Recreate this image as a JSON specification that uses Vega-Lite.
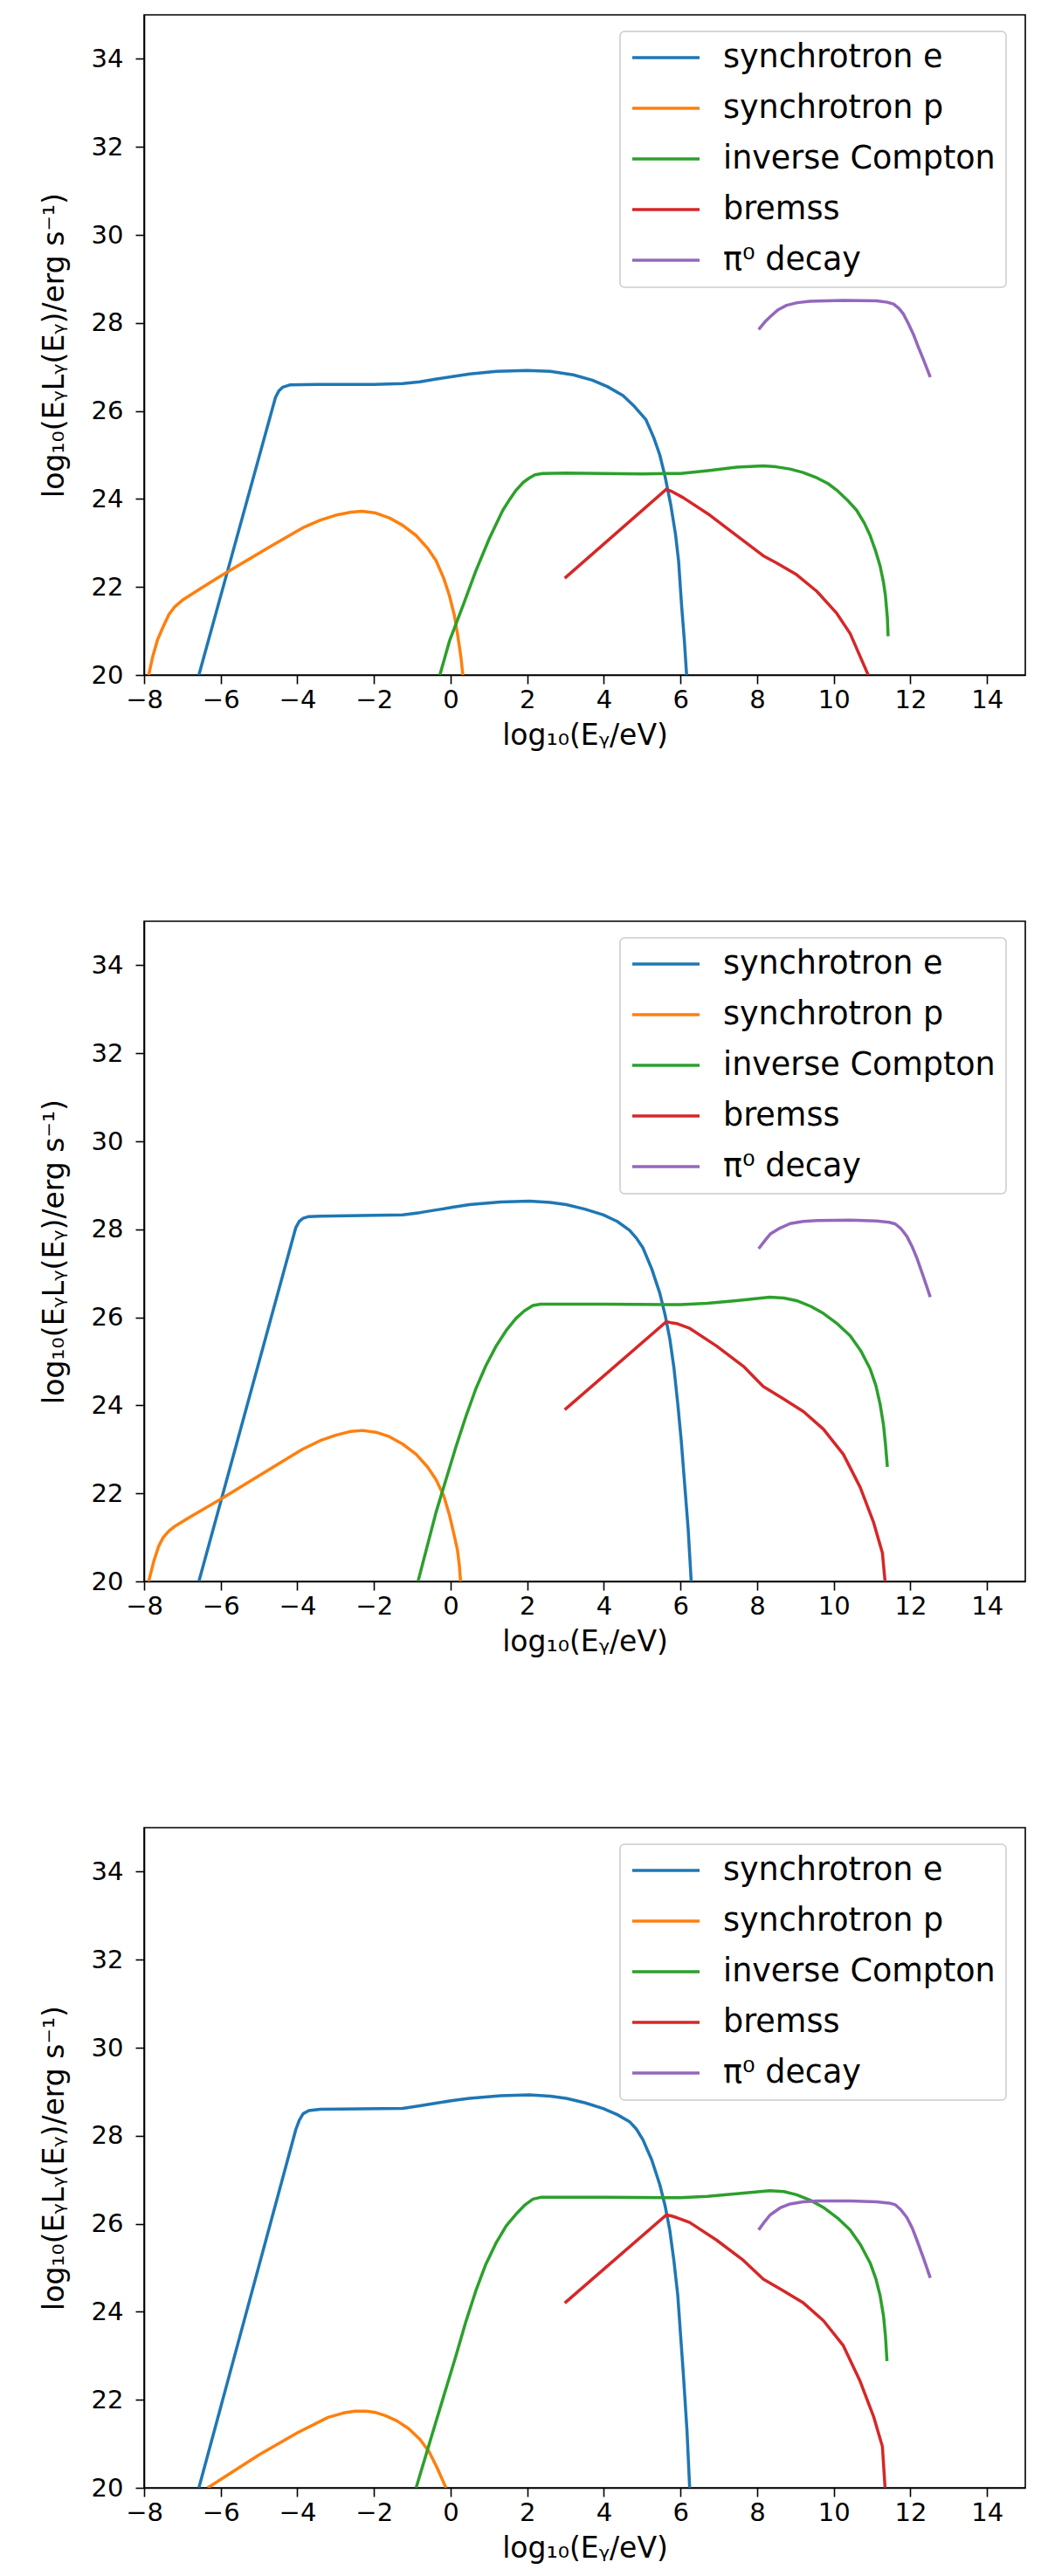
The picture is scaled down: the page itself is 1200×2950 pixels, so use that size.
{
  "$schema": "https://vega.github.io/schema/vega-lite/v6.json",
  "padding": {"left": 45, "top": 16, "right": 5, "bottom": 5},
  "background": "white",
  "bounds": "flush",
  "spacing": 282,
  "datasets": {
    "p1": [
      {"process":"synchrotron e","x":-6.57,"y":20},{"process":"synchrotron e","x":-4.57,"y":26.31},{"process":"synchrotron e","x":-4.48,"y":26.46},{"process":"synchrotron e","x":-4.38,"y":26.54},{"process":"synchrotron e","x":-4.2,"y":26.59},{"process":"synchrotron e","x":-3.5,"y":26.6},{"process":"synchrotron e","x":-2,"y":26.6},{"process":"synchrotron e","x":-1.25,"y":26.62},{"process":"synchrotron e","x":-0.8,"y":26.66},{"process":"synchrotron e","x":-0.4,"y":26.72},{"process":"synchrotron e","x":0.05,"y":26.78},{"process":"synchrotron e","x":0.5,"y":26.84},{"process":"synchrotron e","x":1.2,"y":26.9},{"process":"synchrotron e","x":2.0,"y":26.92},{"process":"synchrotron e","x":2.6,"y":26.9},{"process":"synchrotron e","x":3.2,"y":26.82},{"process":"synchrotron e","x":3.7,"y":26.7},{"process":"synchrotron e","x":4.1,"y":26.55},{"process":"synchrotron e","x":4.5,"y":26.35},{"process":"synchrotron e","x":4.8,"y":26.1},{"process":"synchrotron e","x":5.1,"y":25.8},{"process":"synchrotron e","x":5.3,"y":25.4},{"process":"synchrotron e","x":5.46,"y":25.0},{"process":"synchrotron e","x":5.6,"y":24.5},{"process":"synchrotron e","x":5.75,"y":23.85},{"process":"synchrotron e","x":5.87,"y":23.2},{"process":"synchrotron e","x":5.95,"y":22.6},{"process":"synchrotron e","x":6.03,"y":21.57},{"process":"synchrotron e","x":6.1,"y":20.8},{"process":"synchrotron e","x":6.16,"y":20},
      {"process":"synchrotron p","x":-7.88,"y":20},{"process":"synchrotron p","x":-7.78,"y":20.4},{"process":"synchrotron p","x":-7.65,"y":20.8},{"process":"synchrotron p","x":-7.5,"y":21.1},{"process":"synchrotron p","x":-7.35,"y":21.38},{"process":"synchrotron p","x":-7.2,"y":21.55},{"process":"synchrotron p","x":-7.0,"y":21.7},{"process":"synchrotron p","x":-6.5,"y":21.98},{"process":"synchrotron p","x":-5.96,"y":22.27},{"process":"synchrotron p","x":-4.74,"y":22.9},{"process":"synchrotron p","x":-3.87,"y":23.34},{"process":"synchrotron p","x":-3.4,"y":23.52},{"process":"synchrotron p","x":-3.0,"y":23.63},{"process":"synchrotron p","x":-2.6,"y":23.7},{"process":"synchrotron p","x":-2.3,"y":23.72},{"process":"synchrotron p","x":-1.95,"y":23.68},{"process":"synchrotron p","x":-1.6,"y":23.57},{"process":"synchrotron p","x":-1.25,"y":23.4},{"process":"synchrotron p","x":-0.9,"y":23.17},{"process":"synchrotron p","x":-0.6,"y":22.88},{"process":"synchrotron p","x":-0.38,"y":22.6},{"process":"synchrotron p","x":-0.18,"y":22.2},{"process":"synchrotron p","x":-0.03,"y":21.8},{"process":"synchrotron p","x":0.1,"y":21.35},{"process":"synchrotron p","x":0.19,"y":20.88},{"process":"synchrotron p","x":0.27,"y":20.4},{"process":"synchrotron p","x":0.32,"y":20},
      {"process":"inverse Compton","x":-0.28,"y":20},{"process":"inverse Compton","x":-0.03,"y":20.77},{"process":"inverse Compton","x":0.32,"y":21.57},{"process":"inverse Compton","x":0.66,"y":22.37},{"process":"inverse Compton","x":1.01,"y":23.1},{"process":"inverse Compton","x":1.36,"y":23.74},{"process":"inverse Compton","x":1.55,"y":24.0},{"process":"inverse Compton","x":1.71,"y":24.2},{"process":"inverse Compton","x":1.9,"y":24.38},{"process":"inverse Compton","x":2.06,"y":24.48},{"process":"inverse Compton","x":2.2,"y":24.55},{"process":"inverse Compton","x":2.4,"y":24.58},{"process":"inverse Compton","x":3,"y":24.59},{"process":"inverse Compton","x":4,"y":24.58},{"process":"inverse Compton","x":5,"y":24.57},{"process":"inverse Compton","x":6.0,"y":24.58},{"process":"inverse Compton","x":6.77,"y":24.65},{"process":"inverse Compton","x":7.46,"y":24.72},{"process":"inverse Compton","x":8.16,"y":24.75},{"process":"inverse Compton","x":8.5,"y":24.73},{"process":"inverse Compton","x":8.86,"y":24.68},{"process":"inverse Compton","x":9.2,"y":24.6},{"process":"inverse Compton","x":9.56,"y":24.48},{"process":"inverse Compton","x":9.85,"y":24.35},{"process":"inverse Compton","x":10.08,"y":24.2},{"process":"inverse Compton","x":10.35,"y":23.98},{"process":"inverse Compton","x":10.6,"y":23.74},{"process":"inverse Compton","x":10.8,"y":23.45},{"process":"inverse Compton","x":10.95,"y":23.17},{"process":"inverse Compton","x":11.1,"y":22.8},{"process":"inverse Compton","x":11.21,"y":22.48},{"process":"inverse Compton","x":11.3,"y":22.1},{"process":"inverse Compton","x":11.35,"y":21.8},{"process":"inverse Compton","x":11.4,"y":21.3},{"process":"inverse Compton","x":11.42,"y":20.88},
      {"process":"bremss","x":2.98,"y":22.2},{"process":"bremss","x":5.63,"y":24.22},{"process":"bremss","x":5.75,"y":24.18},{"process":"bremss","x":6.07,"y":24.03},{"process":"bremss","x":6.77,"y":23.63},{"process":"bremss","x":7.46,"y":23.17},{"process":"bremss","x":8.16,"y":22.71},{"process":"bremss","x":8.5,"y":22.55},{"process":"bremss","x":9.03,"y":22.28},{"process":"bremss","x":9.56,"y":21.9},{"process":"bremss","x":10.08,"y":21.4},{"process":"bremss","x":10.43,"y":20.94},{"process":"bremss","x":10.69,"y":20.42},{"process":"bremss","x":10.9,"y":20},
      {"process":"π⁰ decay","x":8.04,"y":27.85},{"process":"π⁰ decay","x":8.2,"y":28.02},{"process":"π⁰ decay","x":8.34,"y":28.14},{"process":"π⁰ decay","x":8.55,"y":28.3},{"process":"π⁰ decay","x":8.77,"y":28.4},{"process":"π⁰ decay","x":9.05,"y":28.46},{"process":"π⁰ decay","x":9.38,"y":28.49},{"process":"π⁰ decay","x":10.25,"y":28.51},{"process":"π⁰ decay","x":11.12,"y":28.5},{"process":"π⁰ decay","x":11.4,"y":28.47},{"process":"π⁰ decay","x":11.56,"y":28.43},{"process":"π⁰ decay","x":11.7,"y":28.33},{"process":"π⁰ decay","x":11.82,"y":28.2},{"process":"π⁰ decay","x":11.95,"y":27.98},{"process":"π⁰ decay","x":12.08,"y":27.74},{"process":"π⁰ decay","x":12.2,"y":27.47},{"process":"π⁰ decay","x":12.34,"y":27.17},{"process":"π⁰ decay","x":12.52,"y":26.77}
    ],
    "p2": [
      {"process":"synchrotron e","x":-6.57,"y":20},{"process":"synchrotron e","x":-4.04,"y":28.04},{"process":"synchrotron e","x":-3.95,"y":28.18},{"process":"synchrotron e","x":-3.85,"y":28.25},{"process":"synchrotron e","x":-3.7,"y":28.29},{"process":"synchrotron e","x":-3.4,"y":28.3},{"process":"synchrotron e","x":-1.25,"y":28.33},{"process":"synchrotron e","x":-0.8,"y":28.38},{"process":"synchrotron e","x":-0.38,"y":28.44},{"process":"synchrotron e","x":0.05,"y":28.5},{"process":"synchrotron e","x":0.49,"y":28.56},{"process":"synchrotron e","x":1.3,"y":28.62},{"process":"synchrotron e","x":2.06,"y":28.64},{"process":"synchrotron e","x":2.6,"y":28.61},{"process":"synchrotron e","x":3.02,"y":28.56},{"process":"synchrotron e","x":3.5,"y":28.46},{"process":"synchrotron e","x":3.98,"y":28.33},{"process":"synchrotron e","x":4.35,"y":28.18},{"process":"synchrotron e","x":4.67,"y":27.98},{"process":"synchrotron e","x":4.85,"y":27.8},{"process":"synchrotron e","x":5.02,"y":27.58},{"process":"synchrotron e","x":5.25,"y":27.1},{"process":"synchrotron e","x":5.46,"y":26.55},{"process":"synchrotron e","x":5.6,"y":26.05},{"process":"synchrotron e","x":5.72,"y":25.52},{"process":"synchrotron e","x":5.83,"y":24.85},{"process":"synchrotron e","x":5.93,"y":24.03},{"process":"synchrotron e","x":6.02,"y":23.2},{"process":"synchrotron e","x":6.1,"y":22.31},{"process":"synchrotron e","x":6.2,"y":21.2},{"process":"synchrotron e","x":6.28,"y":20},
      {"process":"synchrotron p","x":-7.88,"y":20},{"process":"synchrotron p","x":-7.75,"y":20.45},{"process":"synchrotron p","x":-7.62,"y":20.8},{"process":"synchrotron p","x":-7.5,"y":21.0},{"process":"synchrotron p","x":-7.35,"y":21.15},{"process":"synchrotron p","x":-7.2,"y":21.25},{"process":"synchrotron p","x":-6.83,"y":21.45},{"process":"synchrotron p","x":-5.96,"y":21.89},{"process":"synchrotron p","x":-4.74,"y":22.54},{"process":"synchrotron p","x":-3.87,"y":23.0},{"process":"synchrotron p","x":-3.4,"y":23.2},{"process":"synchrotron p","x":-3.0,"y":23.32},{"process":"synchrotron p","x":-2.6,"y":23.41},{"process":"synchrotron p","x":-2.3,"y":23.43},{"process":"synchrotron p","x":-1.95,"y":23.39},{"process":"synchrotron p","x":-1.6,"y":23.29},{"process":"synchrotron p","x":-1.25,"y":23.12},{"process":"synchrotron p","x":-0.9,"y":22.89},{"process":"synchrotron p","x":-0.6,"y":22.6},{"process":"synchrotron p","x":-0.38,"y":22.31},{"process":"synchrotron p","x":-0.18,"y":21.95},{"process":"synchrotron p","x":-0.03,"y":21.51},{"process":"synchrotron p","x":0.08,"y":21.1},{"process":"synchrotron p","x":0.18,"y":20.71},{"process":"synchrotron p","x":0.23,"y":20.35},{"process":"synchrotron p","x":0.26,"y":20},
      {"process":"inverse Compton","x":-0.85,"y":20},{"process":"inverse Compton","x":-0.38,"y":21.57},{"process":"inverse Compton","x":0.14,"y":23.06},{"process":"inverse Compton","x":0.4,"y":23.75},{"process":"inverse Compton","x":0.66,"y":24.38},{"process":"inverse Compton","x":0.92,"y":24.9},{"process":"inverse Compton","x":1.19,"y":25.35},{"process":"inverse Compton","x":1.45,"y":25.7},{"process":"inverse Compton","x":1.71,"y":25.98},{"process":"inverse Compton","x":1.93,"y":26.15},{"process":"inverse Compton","x":2.15,"y":26.27},{"process":"inverse Compton","x":2.35,"y":26.3},{"process":"inverse Compton","x":4,"y":26.3},{"process":"inverse Compton","x":6.0,"y":26.29},{"process":"inverse Compton","x":6.7,"y":26.32},{"process":"inverse Compton","x":7.46,"y":26.38},{"process":"inverse Compton","x":8.33,"y":26.46},{"process":"inverse Compton","x":8.7,"y":26.44},{"process":"inverse Compton","x":9.03,"y":26.38},{"process":"inverse Compton","x":9.4,"y":26.25},{"process":"inverse Compton","x":9.73,"y":26.09},{"process":"inverse Compton","x":10.1,"y":25.85},{"process":"inverse Compton","x":10.43,"y":25.58},{"process":"inverse Compton","x":10.7,"y":25.25},{"process":"inverse Compton","x":10.95,"y":24.83},{"process":"inverse Compton","x":11.1,"y":24.45},{"process":"inverse Compton","x":11.21,"y":24.03},{"process":"inverse Compton","x":11.3,"y":23.55},{"process":"inverse Compton","x":11.35,"y":23.12},{"process":"inverse Compton","x":11.4,"y":22.6},
      {"process":"bremss","x":2.98,"y":23.9},{"process":"bremss","x":5.63,"y":25.9},{"process":"bremss","x":5.75,"y":25.88},{"process":"bremss","x":5.9,"y":25.86},{"process":"bremss","x":6.24,"y":25.75},{"process":"bremss","x":6.94,"y":25.35},{"process":"bremss","x":7.64,"y":24.89},{"process":"bremss","x":8.16,"y":24.43},{"process":"bremss","x":8.68,"y":24.15},{"process":"bremss","x":9.21,"y":23.86},{"process":"bremss","x":9.73,"y":23.46},{"process":"bremss","x":10.25,"y":22.89},{"process":"bremss","x":10.69,"y":22.14},{"process":"bremss","x":11.04,"y":21.34},{"process":"bremss","x":11.27,"y":20.65},{"process":"bremss","x":11.34,"y":20},
      {"process":"π⁰ decay","x":8.04,"y":27.56},{"process":"π⁰ decay","x":8.2,"y":27.74},{"process":"π⁰ decay","x":8.34,"y":27.89},{"process":"π⁰ decay","x":8.6,"y":28.03},{"process":"π⁰ decay","x":8.86,"y":28.13},{"process":"π⁰ decay","x":9.2,"y":28.18},{"process":"π⁰ decay","x":9.56,"y":28.2},{"process":"π⁰ decay","x":10.43,"y":28.21},{"process":"π⁰ decay","x":11.12,"y":28.19},{"process":"π⁰ decay","x":11.45,"y":28.16},{"process":"π⁰ decay","x":11.61,"y":28.12},{"process":"π⁰ decay","x":11.75,"y":28.02},{"process":"π⁰ decay","x":11.91,"y":27.84},{"process":"π⁰ decay","x":12.05,"y":27.6},{"process":"π⁰ decay","x":12.17,"y":27.35},{"process":"π⁰ decay","x":12.35,"y":26.9},{"process":"π⁰ decay","x":12.52,"y":26.46}
    ],
    "p3": [
      {"process":"synchrotron e","x":-6.57,"y":20},{"process":"synchrotron e","x":-4.04,"y":28.14},{"process":"synchrotron e","x":-3.95,"y":28.35},{"process":"synchrotron e","x":-3.85,"y":28.5},{"process":"synchrotron e","x":-3.7,"y":28.57},{"process":"synchrotron e","x":-3.4,"y":28.6},{"process":"synchrotron e","x":-1.25,"y":28.62},{"process":"synchrotron e","x":-0.8,"y":28.68},{"process":"synchrotron e","x":-0.38,"y":28.74},{"process":"synchrotron e","x":0.05,"y":28.8},{"process":"synchrotron e","x":0.49,"y":28.85},{"process":"synchrotron e","x":1.3,"y":28.91},{"process":"synchrotron e","x":2.06,"y":28.93},{"process":"synchrotron e","x":2.6,"y":28.9},{"process":"synchrotron e","x":3.02,"y":28.85},{"process":"synchrotron e","x":3.5,"y":28.75},{"process":"synchrotron e","x":3.98,"y":28.62},{"process":"synchrotron e","x":4.35,"y":28.48},{"process":"synchrotron e","x":4.67,"y":28.32},{"process":"synchrotron e","x":4.85,"y":28.15},{"process":"synchrotron e","x":5.02,"y":27.91},{"process":"synchrotron e","x":5.25,"y":27.45},{"process":"synchrotron e","x":5.46,"y":26.89},{"process":"synchrotron e","x":5.6,"y":26.4},{"process":"synchrotron e","x":5.72,"y":25.86},{"process":"synchrotron e","x":5.83,"y":25.15},{"process":"synchrotron e","x":5.93,"y":24.37},{"process":"synchrotron e","x":6.0,"y":23.5},{"process":"synchrotron e","x":6.07,"y":22.65},{"process":"synchrotron e","x":6.17,"y":21.3},{"process":"synchrotron e","x":6.24,"y":20},
      {"process":"synchrotron p","x":-6.34,"y":20},{"process":"synchrotron p","x":-5,"y":20.75},{"process":"synchrotron p","x":-4,"y":21.25},{"process":"synchrotron p","x":-3.2,"y":21.6},{"process":"synchrotron p","x":-2.8,"y":21.7},{"process":"synchrotron p","x":-2.5,"y":21.74},{"process":"synchrotron p","x":-2.2,"y":21.74},{"process":"synchrotron p","x":-1.95,"y":21.71},{"process":"synchrotron p","x":-1.7,"y":21.64},{"process":"synchrotron p","x":-1.4,"y":21.52},{"process":"synchrotron p","x":-1.1,"y":21.35},{"process":"synchrotron p","x":-0.8,"y":21.1},{"process":"synchrotron p","x":-0.56,"y":20.82},{"process":"synchrotron p","x":-0.35,"y":20.45},{"process":"synchrotron p","x":-0.12,"y":20},
      {"process":"inverse Compton","x":-0.9,"y":20},{"process":"inverse Compton","x":-0.38,"y":21.51},{"process":"inverse Compton","x":0.14,"y":23.0},{"process":"inverse Compton","x":0.4,"y":23.78},{"process":"inverse Compton","x":0.66,"y":24.48},{"process":"inverse Compton","x":0.92,"y":25.08},{"process":"inverse Compton","x":1.19,"y":25.57},{"process":"inverse Compton","x":1.45,"y":25.95},{"process":"inverse Compton","x":1.71,"y":26.22},{"process":"inverse Compton","x":1.93,"y":26.42},{"process":"inverse Compton","x":2.15,"y":26.56},{"process":"inverse Compton","x":2.35,"y":26.6},{"process":"inverse Compton","x":4,"y":26.6},{"process":"inverse Compton","x":6.0,"y":26.59},{"process":"inverse Compton","x":6.7,"y":26.62},{"process":"inverse Compton","x":7.46,"y":26.68},{"process":"inverse Compton","x":8.33,"y":26.75},{"process":"inverse Compton","x":8.7,"y":26.73},{"process":"inverse Compton","x":9.03,"y":26.66},{"process":"inverse Compton","x":9.4,"y":26.53},{"process":"inverse Compton","x":9.73,"y":26.37},{"process":"inverse Compton","x":10.1,"y":26.13},{"process":"inverse Compton","x":10.43,"y":25.86},{"process":"inverse Compton","x":10.7,"y":25.52},{"process":"inverse Compton","x":10.95,"y":25.11},{"process":"inverse Compton","x":11.1,"y":24.75},{"process":"inverse Compton","x":11.21,"y":24.37},{"process":"inverse Compton","x":11.3,"y":23.9},{"process":"inverse Compton","x":11.35,"y":23.45},{"process":"inverse Compton","x":11.39,"y":22.88},
      {"process":"bremss","x":2.98,"y":24.2},{"process":"bremss","x":5.63,"y":26.2},{"process":"bremss","x":5.75,"y":26.18},{"process":"bremss","x":5.9,"y":26.14},{"process":"bremss","x":6.24,"y":26.03},{"process":"bremss","x":6.94,"y":25.63},{"process":"bremss","x":7.64,"y":25.17},{"process":"bremss","x":8.16,"y":24.74},{"process":"bremss","x":8.68,"y":24.48},{"process":"bremss","x":9.21,"y":24.2},{"process":"bremss","x":9.73,"y":23.8},{"process":"bremss","x":10.25,"y":23.23},{"process":"bremss","x":10.69,"y":22.42},{"process":"bremss","x":11.04,"y":21.62},{"process":"bremss","x":11.27,"y":20.94},{"process":"bremss","x":11.34,"y":20},
      {"process":"π⁰ decay","x":8.04,"y":25.86},{"process":"π⁰ decay","x":8.2,"y":26.05},{"process":"π⁰ decay","x":8.34,"y":26.2},{"process":"π⁰ decay","x":8.6,"y":26.36},{"process":"π⁰ decay","x":8.86,"y":26.45},{"process":"π⁰ decay","x":9.2,"y":26.5},{"process":"π⁰ decay","x":9.56,"y":26.52},{"process":"π⁰ decay","x":10.43,"y":26.52},{"process":"π⁰ decay","x":11.12,"y":26.5},{"process":"π⁰ decay","x":11.45,"y":26.47},{"process":"π⁰ decay","x":11.61,"y":26.43},{"process":"π⁰ decay","x":11.75,"y":26.32},{"process":"π⁰ decay","x":11.91,"y":26.14},{"process":"π⁰ decay","x":12.05,"y":25.9},{"process":"π⁰ decay","x":12.17,"y":25.63},{"process":"π⁰ decay","x":12.35,"y":25.2},{"process":"π⁰ decay","x":12.52,"y":24.77}
    ]
  },
  "vconcat": [
    {
      "data": {"name": "p1"},
      "width": 1009, "height": 756,
      "mark": {"type": "line", "strokeWidth": 3.5, "clip": true},
      "encoding": {
        "x": {"field": "x", "type": "quantitative", "scale": {"domain": [-8, 15], "nice": false, "zero": false}, "axis": {"values": [-8,-6,-4,-2,0,2,4,6,8,10,12,14], "title": "log₁₀(Eᵧ/eV)"}},
        "y": {"field": "y", "type": "quantitative", "scale": {"domain": [20, 35], "nice": false, "zero": false}, "axis": {"values": [20,22,24,26,28,30,32,34], "title": "log₁₀(EᵧLᵧ(Eᵧ)/erg s⁻¹)"}},
        "color": {"field": "process", "type": "nominal", "scale": {"domain": ["synchrotron e","synchrotron p","inverse Compton","bremss","π⁰ decay"], "range": ["#1f77b4","#ff7f0e","#2ca02c","#d62728","#9467bd"]}, "legend": {"orient": "none", "legendX": 545, "legendY": 19, "title": null}},
        "order": {"field": "x", "type": "quantitative"}
      }
    },
    {
      "data": {"name": "p2"},
      "width": 1009, "height": 756,
      "mark": {"type": "line", "strokeWidth": 3.5, "clip": true},
      "encoding": {
        "x": {"field": "x", "type": "quantitative", "scale": {"domain": [-8, 15], "nice": false, "zero": false}, "axis": {"values": [-8,-6,-4,-2,0,2,4,6,8,10,12,14], "title": "log₁₀(Eᵧ/eV)"}},
        "y": {"field": "y", "type": "quantitative", "scale": {"domain": [20, 35], "nice": false, "zero": false}, "axis": {"values": [20,22,24,26,28,30,32,34], "title": "log₁₀(EᵧLᵧ(Eᵧ)/erg s⁻¹)"}},
        "color": {"field": "process", "type": "nominal", "scale": {"domain": ["synchrotron e","synchrotron p","inverse Compton","bremss","π⁰ decay"], "range": ["#1f77b4","#ff7f0e","#2ca02c","#d62728","#9467bd"]}, "legend": {"orient": "none", "legendX": 545, "legendY": 19, "title": null}},
        "order": {"field": "x", "type": "quantitative"}
      }
    },
    {
      "data": {"name": "p3"},
      "width": 1009, "height": 756,
      "mark": {"type": "line", "strokeWidth": 3.5, "clip": true},
      "encoding": {
        "x": {"field": "x", "type": "quantitative", "scale": {"domain": [-8, 15], "nice": false, "zero": false}, "axis": {"values": [-8,-6,-4,-2,0,2,4,6,8,10,12,14], "title": "log₁₀(Eᵧ/eV)"}},
        "y": {"field": "y", "type": "quantitative", "scale": {"domain": [20, 35], "nice": false, "zero": false}, "axis": {"values": [20,22,24,26,28,30,32,34], "title": "log₁₀(EᵧLᵧ(Eᵧ)/erg s⁻¹)"}},
        "color": {"field": "process", "type": "nominal", "scale": {"domain": ["synchrotron e","synchrotron p","inverse Compton","bremss","π⁰ decay"], "range": ["#1f77b4","#ff7f0e","#2ca02c","#d62728","#9467bd"]}, "legend": {"orient": "none", "legendX": 545, "legendY": 19, "title": null}},
        "order": {"field": "x", "type": "quantitative"}
      }
    }
  ],
  "resolve": {"legend": {"color": "independent"}, "scale": {"x": "independent", "y": "independent"}, "axis": {"x": "independent", "y": "independent"}},
  "config": {
    "font": "DejaVu Sans",
    "view": {"stroke": "black", "strokeWidth": 1.6},
    "line": {"strokeJoin": "round", "strokeCap": "butt"},
    "axis": {
      "grid": false, "domainColor": "black", "domainWidth": 1.6, "tickColor": "black", "tickWidth": 1.6, "tickSize": 10,
      "labelFont": "DejaVu Sans", "labelFontSize": 29, "labelColor": "black",
      "titleFont": "DejaVu Sans", "titleFontSize": 33, "titleFontWeight": "normal", "titleColor": "black", "labelFlush": false, "labelOverlap": false
    },
    "axisX": {"labelPadding": 4, "titlePadding": 10},
    "axisY": {"labelPadding": 14, "titlePadding": 25},
    "legend": {
      "symbolType": "stroke", "symbolSize": 5929, "symbolStrokeWidth": 3.3, "labelFont": "DejaVu Sans", "labelFontSize": 36.5, "labelColor": "black",
      "labelOffset": 25, "padding": 12, "rowPadding": 21, "clipHeight": 36, "fillColor": "white", "strokeColor": "#cccccc", "strokeWidth": 1.5, "cornerRadius": 5, "labelLimit": 0
    }
  }
}
